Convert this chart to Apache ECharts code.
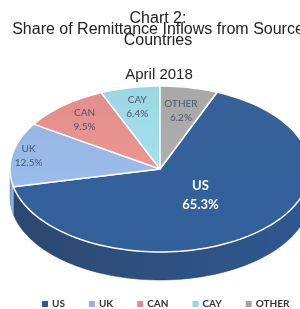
<!DOCTYPE html>
<html>
<head>
<meta charset="utf-8">
<script src="https://cdn.jsdelivr.net/npm/echarts@6/dist/echarts.min.js"></script>
<style>
  html, body { margin: 0; padding: 0; background: #fff; }
  #chart { width: 300px; height: 309px; }
</style>
</head>
<body>
<div id="chart"></div>
<script>
// data
var categories = ['US', 'UK', 'CAN', 'CAY', 'OTHER'];
var shares = [65.3, 12.5, 9.5, 6.4, 6.2];
var shareLabels = ['65.3%', '12.5%', '9.5%', '6.4%', '6.2%'];

// look
var topColors = ['#2F5B94', '#93B3E0', '#E08C88', '#99D5E2', '#A5A5A5'];
var sideColors = ['#223f68', '#6F8DBA', '#B56A66', '#73AEBB', '#7F7F7F'];
var labelDist = [0.42, 0.89, 0.78, 0.76, 0.72]; // label radius as part of the slice radius
var labelFont = 'Lato, "Noto Sans", sans-serif';
var titleFont = '"Liberation Sans", Arial, sans-serif';

var CX = 160, CY = 169, RX = 150, RY = 83, DEPTH = 28;

// slice angles (screen degrees, clockwise). last slice (OTHER) starts at 12 o'clock
var total = 0;
for (var i = 0; i < shares.length; i++) total += shares[i];
var angles = [];
var a = -90 + 360 * shares[shares.length - 1] / total;
for (var i = 0; i < shares.length; i++) {
	angles.push(a);
	a += 360 * shares[i] / total;
}
angles.push(a);

function pt(deg, dy) {
	var r = deg * Math.PI / 180;
	return [CX + RX * Math.cos(r), CY + RY * Math.sin(r) + (dy || 0)];
}

function arcPts(a1, a2, dy) {
	var pts = [];
	var n = Math.max(2, Math.ceil(Math.abs(a2 - a1) / 2));
	for (var j = 0; j <= n; j++) {
		pts.push(pt(a1 + (a2 - a1) * j / n, dy));
	}
	return pts;
}

function renderSlice(k) {
	return function(params, api) {
		var a1 = angles[k], a2 = angles[k + 1];
		var children = [];
		// side wall, only the front half (0..180) can be seen
		[-360, 0, 360].forEach(function(off) {
			var s = Math.max(a1, off), e = Math.min(a2, off + 180);
			if (e - s <= 0.01) return;
			var pts = arcPts(s, e, 0).concat(arcPts(e, s, DEPTH));
			children.push({
				type: 'polygon',
				z2: 1,
				shape: { points: pts },
				style: {
					fill: {
						type: 'linear', x: 0, y: 0, x2: 1, y2: 0,
						colorStops: [
							{ offset: 0, color: echarts.color.lift(sideColors[k], 0.05) },
							{ offset: 1, color: echarts.color.lift(sideColors[k], -0.4) }
						]
					},
					stroke: sideColors[k],
					lineWidth: 0.5
				}
			});
		});
		// top face
		var topPts = [[CX, CY]].concat(arcPts(a1, a2, 0));
		children.push({
			type: 'polygon',
			z2: 10,
			shape: { points: topPts },
			style: {
				fill: {
					type: 'linear', x: 0, y: 0, x2: 0, y2: 1,
					colorStops: [
						{ offset: 0, color: echarts.color.lift(topColors[k], 0.04) },
						{ offset: 1, color: echarts.color.lift(topColors[k], -0.06) }
					]
				},
				stroke: '#fff',
				lineWidth: 1.5,
				lineJoin: 'round'
			}
		});
		// label
		var big = shares[k] > 50;
		var r = (a1 + a2) / 2 * Math.PI / 180;
		children.push({
			type: 'text',
			z2: 20,
			x: CX + RX * labelDist[k] * Math.cos(r),
			y: CY + RY * labelDist[k] * Math.sin(r),
			style: {
				text: categories[k] + '\n' + shareLabels[k],
				fill: big ? '#fff' : '#4A5670',
				font: (big ? 'bold 13px ' : '10px ') + labelFont,
				lineHeight: big ? 19 : 14,
				align: 'center',
				verticalAlign: 'middle'
			}
		});
		return { type: 'group', children: children };
	};
}

var series = [];
for (var k = 0; k < categories.length; k++) {
	series.push({
		type: 'custom',
		name: categories[k],
		coordinateSystem: 'none',
		itemStyle: { color: topColors[k] },
		silent: true,
		data: [[shares[k]]],
		renderItem: renderSlice(k)
	});
}

var chart = echarts.init(document.getElementById('chart'), null, { renderer: 'canvas' });
chart.setOption({
	animation: false,
	backgroundColor: '#fff',
	title: [{
		text: 'Chart 2:\nShare of Remittance Inflows from Source\nCountries',
		left: 153,
		textAlign: 'center',
		top: 8,
		textStyle: {
			fontFamily: titleFont,
			fontSize: 16,
			fontWeight: 'normal',
			color: '#222',
			lineHeight: 11
		}
	}, {
		text: 'April 2018',
		left: 154,
		textAlign: 'center',
		top: 62,
		textStyle: {
			fontFamily: titleFont,
			fontSize: 15,
			fontWeight: 'normal',
			color: '#222'
		}
	}],
	legend: {
		data: categories,
		bottom: -5,
		left: 37,
		width: 290,
		icon: 'rect',
		itemWidth: 6,
		itemHeight: 6,
		itemGap: 24,
		selectedMode: false,
		textStyle: {
			fontFamily: labelFont,
			fontSize: 10,
			fontWeight: 'bold',
			color: '#333',
			padding: [0, 0, 0, -1]
		}
	},
	series: series
});
</script>
</body>
</html>
